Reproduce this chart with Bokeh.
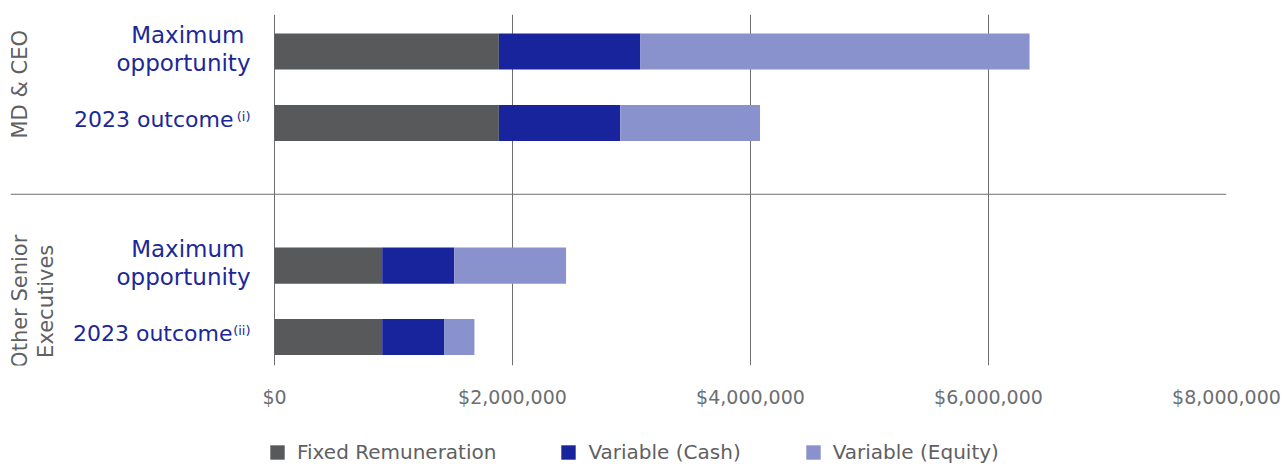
import math
from bokeh.plotting import figure
from bokeh.layouts import column
from bokeh.models import (ColumnDataSource, Range1d, FixedTicker, NumeralTickFormatter,
                          Span, Legend, LegendItem)
from bokeh.core.properties import value
from bokeh.embed import file_html
from bokeh.resources import INLINE

# ---- data ----
groups = ["MD & CEO", "Other Senior Executives"]
group_lines = [["MD & CEO"], ["Other Senior", "Executives"]]
rows = ["Maximum opportunity", "2023 outcome"]
notes = ["(i)", "(ii)"]
fixed = [1885000, 1885000, 905000, 905000]
cash = [1190000, 1020000, 605000, 520000]
equity = [3270000, 1175000, 940000, 255000]
series = ["Fixed Remuneration", "Variable (Cash)", "Variable (Equity)"]
ticks = [0, 2000000, 4000000, 6000000, 8000000]

colors = ["#58595b", "#18249c", "#8a92cd"]
LABEL_BLUE = "#1c2898"
GREY = "#5f6062"
FONT = "DejaVu Sans"

# y positions computed from category order (top group first)
ypos, gy = [], []
for g in range(len(groups)):
    base = (len(groups) - 1 - g) * (len(rows) + 1)
    for j in range(len(rows)):
        ypos.append(base + (len(rows) - 1 - j))
    gy.append(base + (len(rows) - 1) / 2)

src = ColumnDataSource(dict(y=ypos, fixed=fixed, cash=cash, equity=equity))

p = figure(width=1285, height=430, output_backend="svg", toolbar_location=None,
           x_range=Range1d(-2218487, 8000000), y_range=Range1d(-0.40, 4.52),
           min_border_left=10, min_border_right=59, min_border_top=14, min_border_bottom=65,
           y_axis_location=None)
p.outline_line_color = None
p.background_fill_color = "white"
p.border_fill_color = "white"

rs = p.hbar_stack(["fixed", "cash", "equity"], y="y", height=0.505, color=colors,
                  line_color=None, source=src)

# axis / grid
p.xaxis.ticker = FixedTicker(ticks=ticks)
p.xaxis.formatter = NumeralTickFormatter(format="$0,0")
p.xaxis.axis_line_color = None
p.xaxis.major_tick_line_color = None
p.xaxis.minor_tick_line_color = None
p.xaxis.major_label_standoff = 14
p.xaxis.major_label_text_font = FONT
p.xaxis.major_label_text_font_size = "19px"
p.xaxis.major_label_text_color = "#6d6e70"
p.xgrid.ticker = FixedTicker(ticks=ticks)
p.xgrid.grid_line_color = "#6d6e71"
p.xgrid.grid_line_width = 1
p.ygrid.visible = False

# separator between groups
p.add_layout(Span(location=(gy[0] + gy[1]) / 2, dimension="width",
                  line_color="#6d6e71", line_width=1))

# row labels
max_y = [ypos[i] for i in range(len(ypos)) if i % len(rows) == 0]
out_y = [ypos[i] for i in range(len(ypos)) if i % len(rows) == 1]
l1, l2 = rows[0].split(" ", 1)
common = dict(text_align="right", text_baseline="alphabetic", text_font=value(FONT),
              text_color=LABEL_BLUE)
p.text(x=[0] * len(max_y), y=max_y, text=[l1] * len(max_y), x_offset=-30, y_offset=-17,
       text_font_size="23px", **common)
p.text(x=[0] * len(max_y), y=max_y, text=[l2] * len(max_y), x_offset=-24, y_offset=11,
       text_font_size="23px", **common)
p.text(x=[0] * len(out_y), y=out_y, text=[rows[1]] * len(out_y), x_offset=[-41, -42], y_offset=-3,
       text_font_size="22px", **common)
p.text(x=[0] * len(out_y), y=out_y, text=notes, x_offset=-24, y_offset=-6,
       text_font_size="13px", **common)

# group labels (rotated)
gx, gyy, gt, goff = [], [], [], []
for g, lines in enumerate(group_lines):
    n = len(lines)
    for k, t in enumerate(lines):
        gx.append(0)
        gyy.append(gy[g])
        gt.append(t)
        goff.append(-254 + 26 * k if n > 1 else -254)
p.text(x=gx, y=gyy, text=gt, x_offset=goff, y_offset=[-3, 0, 0][:len(gt)], angle=math.pi / 2,
       text_align="center", text_baseline="middle", text_font=value(FONT),
       text_font_size="21px", text_color=GREY)

# legend in its own strip below (same data, bars kept outside the strip's view)
lg = figure(width=1285, height=34, output_backend="svg", toolbar_location=None,
            x_range=Range1d(0, 1), y_range=Range1d(100, 101), min_border=0,
            x_axis_location=None, y_axis_location=None)
lg.outline_line_color = None
lg.xgrid.visible = False
lg.ygrid.visible = False
lrs = lg.hbar_stack(["fixed", "cash", "equity"], y="y", height=0.505, color=colors,
                    line_color=None, source=src)
legend = Legend(items=[LegendItem(label=s, renderers=[r]) for s, r in zip(series, lrs)],
                location=(258, 0), orientation="horizontal",
                glyph_width=18, glyph_height=18, label_standoff=11, spacing=63,
                padding=0, margin=0, label_text_font=FONT, label_text_font_size="20px",
                label_text_color=GREY, background_fill_alpha=0, border_line_alpha=0,
                label_height=18)
lg.add_layout(legend, "center")

layout = column(p, lg, spacing=0)
open("out.html", "w").write(file_html(layout, INLINE))
